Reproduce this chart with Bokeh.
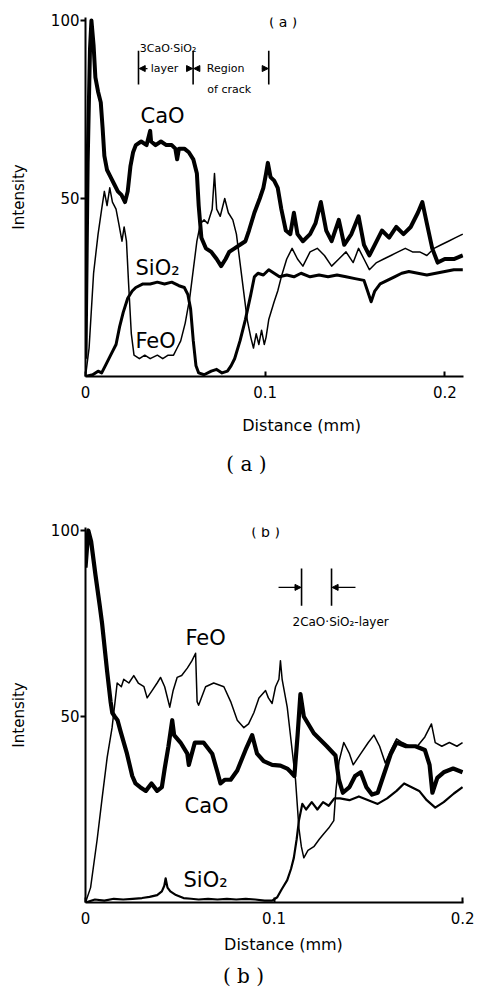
from bokeh.plotting import figure
from bokeh.layouts import column
from bokeh.models import Label, Arrow, NormalHead, FixedTicker, Range1d
from bokeh.embed import file_html
from bokeh.resources import INLINE

# ---------------- panel (a) data ----------------
a_cao_x = [0.0, 0.0012, 0.0025, 0.0033, 0.0045, 0.0055, 0.007, 0.0085, 0.0095, 0.0105, 0.012, 0.014, 0.016,
           0.018, 0.020, 0.022, 0.0235, 0.025, 0.0265, 0.028, 0.031, 0.034, 0.036, 0.0365, 0.039, 0.042, 0.045,
           0.048, 0.050, 0.051, 0.052, 0.055, 0.0575, 0.060, 0.062, 0.063, 0.0645, 0.067, 0.070, 0.073, 0.0755,
           0.078, 0.080, 0.083, 0.086, 0.089, 0.091, 0.094, 0.097, 0.099, 0.1005, 0.1015, 0.103, 0.105, 0.107,
           0.109, 0.1115, 0.114, 0.116, 0.118, 0.121, 0.125, 0.128, 0.131, 0.134, 0.137, 0.141, 0.144, 0.148,
           0.152, 0.155, 0.158, 0.161, 0.165, 0.169, 0.173, 0.177, 0.181, 0.185, 0.1875, 0.190, 0.193, 0.196,
           0.200, 0.205, 0.210]
a_cao_y = [5, 60, 92, 100, 93, 84, 80, 77, 70, 62, 58, 56, 54,
           52, 51, 49, 52, 59, 63, 65, 66, 65, 69, 66, 65, 66, 65,
           65, 64, 61, 64, 64, 63, 61, 57, 48, 39, 36, 35, 33, 31,
           33, 35, 36, 37, 38, 41, 46, 50, 53, 57, 60, 56, 55, 53,
           47, 41, 40, 46, 40, 38, 40, 43, 49, 41, 38, 44, 37, 40,
           45, 37, 34, 37, 41, 39, 42, 40, 42, 46, 49, 43, 36, 32,
           33, 33, 34]

a_feo_x = [0.0, 0.002, 0.0045, 0.007, 0.009, 0.0105, 0.012, 0.0135, 0.015, 0.017, 0.0185, 0.0203, 0.0215,
           0.0228, 0.024, 0.0255, 0.027, 0.030, 0.033, 0.036, 0.040, 0.043, 0.046, 0.049, 0.051, 0.053, 0.0555,
           0.058, 0.060, 0.062, 0.064, 0.066, 0.068, 0.0705, 0.0718, 0.073, 0.075, 0.0775, 0.0795, 0.082, 0.084,
           0.086, 0.088, 0.090, 0.092, 0.0935, 0.095, 0.0965, 0.098, 0.0995, 0.1005, 0.102, 0.105, 0.107, 0.109,
           0.112, 0.115, 0.118, 0.121, 0.125, 0.129, 0.133, 0.137, 0.141, 0.145, 0.149, 0.152, 0.155, 0.158,
           0.162, 0.166, 0.170, 0.174, 0.178, 0.182, 0.186, 0.190, 0.194, 0.198, 0.202, 0.206, 0.210]
a_feo_y = [0, 8, 29, 40, 47, 52, 48, 53, 49, 47, 43, 38, 42,
           38, 26, 12, 6, 5, 6, 5, 6, 5, 6, 6, 8, 10, 15,
           22, 30, 38, 43, 44, 43, 47, 57, 47, 45, 50, 46, 44, 40,
           32, 24, 16, 11, 8, 12, 9, 13, 9, 11, 16, 21, 24, 28,
           33, 36, 33, 31, 35, 36, 34, 31, 33, 35, 32, 36, 33, 30,
           32, 33, 34, 35, 36, 35, 35, 34, 36, 37, 38, 39, 40]

a_sio2_x = [0.0, 0.004, 0.007, 0.009, 0.011, 0.014, 0.017, 0.019, 0.021, 0.0235, 0.026, 0.028, 0.032, 0.036,
            0.040, 0.044, 0.048, 0.052, 0.055, 0.057, 0.0585, 0.060, 0.0615, 0.063, 0.066, 0.070, 0.073, 0.076,
            0.079, 0.081, 0.083, 0.086, 0.089, 0.092, 0.094, 0.096, 0.099, 0.102, 0.105, 0.108, 0.112, 0.116,
            0.120, 0.125, 0.130, 0.135, 0.140, 0.145, 0.150, 0.155, 0.157, 0.159, 0.161, 0.164, 0.168, 0.172,
            0.176, 0.180, 0.185, 0.190, 0.195, 0.200, 0.205, 0.210]
a_sio2_y = [0, 0.5, 1.5, 1, 3, 6, 9, 14, 18, 22, 24, 25, 26, 26,
            26.5, 26, 26.5, 25.5, 25, 23, 19, 10, 3, 1, 0.5, 1.5, 2, 1,
            1.5, 3, 5, 10, 16, 23, 28, 29, 28.5, 30, 29, 28, 28.5, 28,
            29, 28, 28.5, 28, 28.5, 28, 27.5, 27, 24, 21, 24, 26, 27, 28,
            29, 29.5, 29, 28.5, 29, 29.5, 30, 30]

# ---------------- panel (b) data ----------------
b_cao_x = [0.0, 0.0015, 0.003, 0.0053, 0.0075, 0.0088, 0.0115, 0.0133, 0.0142, 0.0155, 0.017, 0.0186, 0.022,
           0.0248, 0.0265, 0.029, 0.032, 0.035, 0.038, 0.0405, 0.042, 0.044, 0.046, 0.047, 0.0504, 0.054, 0.0548,
           0.058, 0.0626, 0.0672, 0.070, 0.0716, 0.074, 0.077, 0.0805, 0.0849, 0.0884, 0.091, 0.0945, 0.099,
           0.1034, 0.107, 0.109, 0.1108, 0.1125, 0.114, 0.1158, 0.1211, 0.128, 0.1326, 0.1344, 0.1365, 0.140,
           0.143, 0.146, 0.149, 0.152, 0.155, 0.158, 0.162, 0.165, 0.170, 0.175, 0.180, 0.1825, 0.184, 0.1866,
           0.190, 0.195, 0.200]
b_cao_y = [90, 100, 97, 88, 80, 75, 62, 54, 51, 50, 49, 46, 40,
           34, 32, 31, 30, 32, 30, 31, 36, 42, 49, 45, 43, 40, 37,
           43, 43, 40, 35, 32, 33, 33, 35.5, 41, 45, 40, 38, 37,
           36.8, 36, 35, 34, 45, 56, 50, 45.5, 42, 39.5, 33, 29.5, 31,
           34, 35, 31, 29, 29.5, 34, 40, 43, 42, 42, 41, 37, 29.5, 33.5,
           35, 36, 35]

b_feo_x = [0.0, 0.0027, 0.0062, 0.0088, 0.0115, 0.0141, 0.0159, 0.0168, 0.019, 0.0203, 0.023, 0.0256, 0.028,
           0.031, 0.0327, 0.0354, 0.038, 0.0398, 0.042, 0.0447, 0.0465, 0.0486, 0.051, 0.054, 0.0565, 0.0584,
           0.0592, 0.060, 0.0637, 0.068, 0.0734, 0.077, 0.0805, 0.084, 0.0865, 0.0893, 0.092, 0.0955, 0.097,
           0.099, 0.1008, 0.1026, 0.1034, 0.1043, 0.107, 0.1096, 0.1114, 0.1132, 0.1145, 0.1158, 0.118, 0.1211,
           0.124, 0.1264, 0.129, 0.1317, 0.1328, 0.1345, 0.137, 0.140, 0.142, 0.146, 0.150, 0.153, 0.156, 0.159,
           0.162, 0.165, 0.168, 0.172, 0.176, 0.180, 0.1835, 0.1855, 0.189, 0.193, 0.197, 0.200]
b_feo_y = [0, 4, 17, 28, 39, 47, 55, 59, 58, 60, 59, 61, 59,
           58, 55, 57, 59, 60.5, 58, 52.5, 57, 60.5, 61, 63, 65, 67,
           54, 53, 58, 59, 58, 54, 49, 47, 48, 51, 55, 57, 55,
           53.5, 58, 60, 65, 60, 52.5, 41, 33, 20, 15, 12, 14, 15,
           17, 18.5, 20, 22, 30, 38, 43, 40, 37, 40, 43, 45, 42, 37.5,
           41, 44, 43, 42, 42, 44.5, 48, 43, 42, 43, 42, 43]

b_sio2_x = [0.0, 0.005, 0.010, 0.015, 0.020, 0.025, 0.030, 0.034, 0.038, 0.0405, 0.0418, 0.0425, 0.0435, 0.045,
            0.048, 0.052, 0.056, 0.060, 0.065, 0.070, 0.075, 0.080, 0.085, 0.090, 0.095, 0.099, 0.1017, 0.104,
            0.107, 0.109, 0.1105, 0.112, 0.1132, 0.115, 0.117, 0.120, 0.123, 0.126, 0.129, 0.132, 0.135, 0.140,
            0.145, 0.150, 0.155, 0.160, 0.165, 0.169, 0.173, 0.177, 0.181, 0.1855, 0.190, 0.1954, 0.200]
b_sio2_y = [0, 0.8, 0.5, 1, 0.8, 1, 1.2, 1.5, 2, 3, 4.5, 6.5, 4, 3,
            2, 1.2, 1, 0.8, 1, 0.8, 1, 0.8, 1, 0.8, 0.5, 0.5, 1.4, 3.5,
            6, 9, 12, 17, 22, 26.5, 25, 27, 25, 27, 26, 28, 28, 27.5,
            28.5, 27.5, 26.5, 28, 30, 32, 31, 30, 27.5, 25.5, 27, 29.3, 31]

# annotation positions
a_bars_x = [0.0295, 0.0599, 0.1020]
a_bars_y = [82.0, 91.5]
b_bars_x = [0.1146, 0.1305]
b_bars_y = [79.8, 89.8]

x_ticks_labels = {0: "0", 0.1: "0.1", 0.2: "0.2"}
y_ticks = [50, 100]

FONT = "DejaVu Sans"
SERIF = "DejaVu Serif"


def make_panel(height, b_left, b_right, b_top, b_bottom, xmax, ymax):
    p = figure(width=477, height=height, output_backend="svg", toolbar_location=None,
               x_range=Range1d(0, xmax), y_range=Range1d(0, ymax),
               min_border_left=b_left, min_border_right=b_right,
               min_border_top=b_top, min_border_bottom=b_bottom)
    p.outline_line_color = None
    p.grid.visible = False
    p.background_fill_color = "white"
    p.border_fill_color = "white"
    for ax in (p.xaxis[0], p.yaxis[0]):
        ax.axis_line_width = 2
        ax.axis_line_color = "black"
        ax.major_tick_line_width = 2
        ax.major_tick_line_color = "black"
        ax.minor_tick_line_color = None
        ax.major_label_text_font = FONT
        ax.major_label_text_font_size = "15px"
        ax.major_label_text_color = "black"
    p.xaxis.ticker = FixedTicker(ticks=[0, 0.1, 0.2])
    p.xaxis.major_label_overrides = x_ticks_labels
    p.xaxis.major_tick_in = 5
    p.xaxis.major_tick_out = 0
    p.xaxis.major_label_standoff = 9
    p.yaxis.ticker = FixedTicker(ticks=y_ticks)
    p.yaxis.major_tick_in = 0
    p.yaxis.major_tick_out = 5
    p.yaxis.major_label_standoff = 1
    p.yaxis.axis_label = "Intensity"
    p.yaxis.axis_label_text_font = FONT
    p.yaxis.axis_label_text_font_size = "15px"
    p.yaxis.axis_label_text_font_style = "normal"
    p.yaxis.axis_label_text_color = "black"
    p.yaxis.axis_label_standoff = 20
    return p


def make_caption(height, b_left, b_right, xmax):
    c = figure(width=477, height=height, output_backend="svg", toolbar_location=None,
               x_range=Range1d(0, xmax), y_range=Range1d(0, height),
               x_axis_type=None, y_axis_type=None,
               min_border_left=b_left, min_border_right=b_right,
               min_border_top=0, min_border_bottom=0)
    c.outline_line_color = None
    c.background_fill_color = "white"
    c.border_fill_color = "white"
    return c


def add_text(p, x, y, text, size, font=FONT, align="center"):
    p.add_layout(Label(x=x, y=y, text=text, text_font=font, text_font_size=size,
                       text_align=align, text_baseline="middle", text_color="black"))


def add_arrow(p, x0, x1, y):
    p.add_layout(Arrow(x_start=x0, y_start=y, x_end=x1, y_end=y, line_width=1.3, line_color="black",
                       end=NormalHead(size=6, fill_color="black", line_color="black")))


# ---------------- panel (a) ----------------
pa = make_panel(408, 82, 12, 17, 32, 0.2104, 100.84)
pa.line(a_sio2_x, a_sio2_y, line_color="black", line_width=3.0, line_join="round")
pa.line(a_feo_x, a_feo_y, line_color="black", line_width=1.5, line_join="round")
pa.line(a_cao_x, a_cao_y, line_color="black", line_width=4.0, line_join="round")

pa.segment(x0=a_bars_x, y0=[a_bars_y[0]] * 3, x1=a_bars_x, y1=[a_bars_y[1]] * 3,
           line_color="black", line_width=1.6)
add_arrow(pa, 0.0345, 0.0299, 86.5)
add_arrow(pa, 0.0562, 0.0596, 86.5)
add_arrow(pa, 0.0636, 0.0603, 86.5)
add_arrow(pa, 0.0982, 0.1017, 86.5)

add_text(pa, 0.110, 99.7, "( a )", "14px")
add_text(pa, 0.0302, 92.1, "3CaO·SiO₂", "11px", align="left")
add_text(pa, 0.0440, 86.5, "layer", "11px")
add_text(pa, 0.0780, 86.5, "Region", "11px")
add_text(pa, 0.0800, 80.6, "of crack", "11px")
add_text(pa, 0.0429, 73.3, "CaO", "21px")
add_text(pa, 0.0401, 30.6, "SiO₂", "21px")
add_text(pa, 0.0390, 10.0, "FeO", "21px")

ca = make_caption(82, 82, 12, 0.2104)
add_text(ca, 0.1203, 65, "Distance (mm)", "16px")
add_text(ca, 0.0896, 27, "( a )", "20px", font=SERIF)

# ---------------- panel (b) ----------------
pb = make_panel(444, 85, 14, 37, 32, 0.2005, 100.8)
pb.line(b_sio2_x, b_sio2_y, line_color="black", line_width=2.2, line_join="round")
pb.line(b_feo_x, b_feo_y, line_color="black", line_width=1.5, line_join="round")
pb.line(b_cao_x, b_cao_y, line_color="black", line_width=4.2, line_join="round")

pb.segment(x0=b_bars_x, y0=[b_bars_y[0]] * 2, x1=b_bars_x, y1=[b_bars_y[1]] * 2,
           line_color="black", line_width=1.6)
add_arrow(pb, 0.1024, 0.1143, 84.7)
add_arrow(pb, 0.1432, 0.1308, 84.7)

add_text(pb, 0.0955, 99.5, "( b )", "14px")
add_text(pb, 0.1098, 75.3, "2CaO·SiO₂-layer", "12px", align="left")
add_text(pb, 0.0637, 71.0, "FeO", "21px")
add_text(pb, 0.0642, 26.0, "CaO", "21px")
add_text(pb, 0.0637, 6.0, "SiO₂", "21px")

cb = make_caption(55, 85, 14, 0.2005)
add_text(cb, 0.1050, 45.5, "Distance (mm)", "16px")
add_text(cb, 0.0838, 14, "( b )", "20px", font=SERIF)

layout = column(pa, ca, pb, cb)
open("out.html", "w").write(file_html(layout, INLINE))
